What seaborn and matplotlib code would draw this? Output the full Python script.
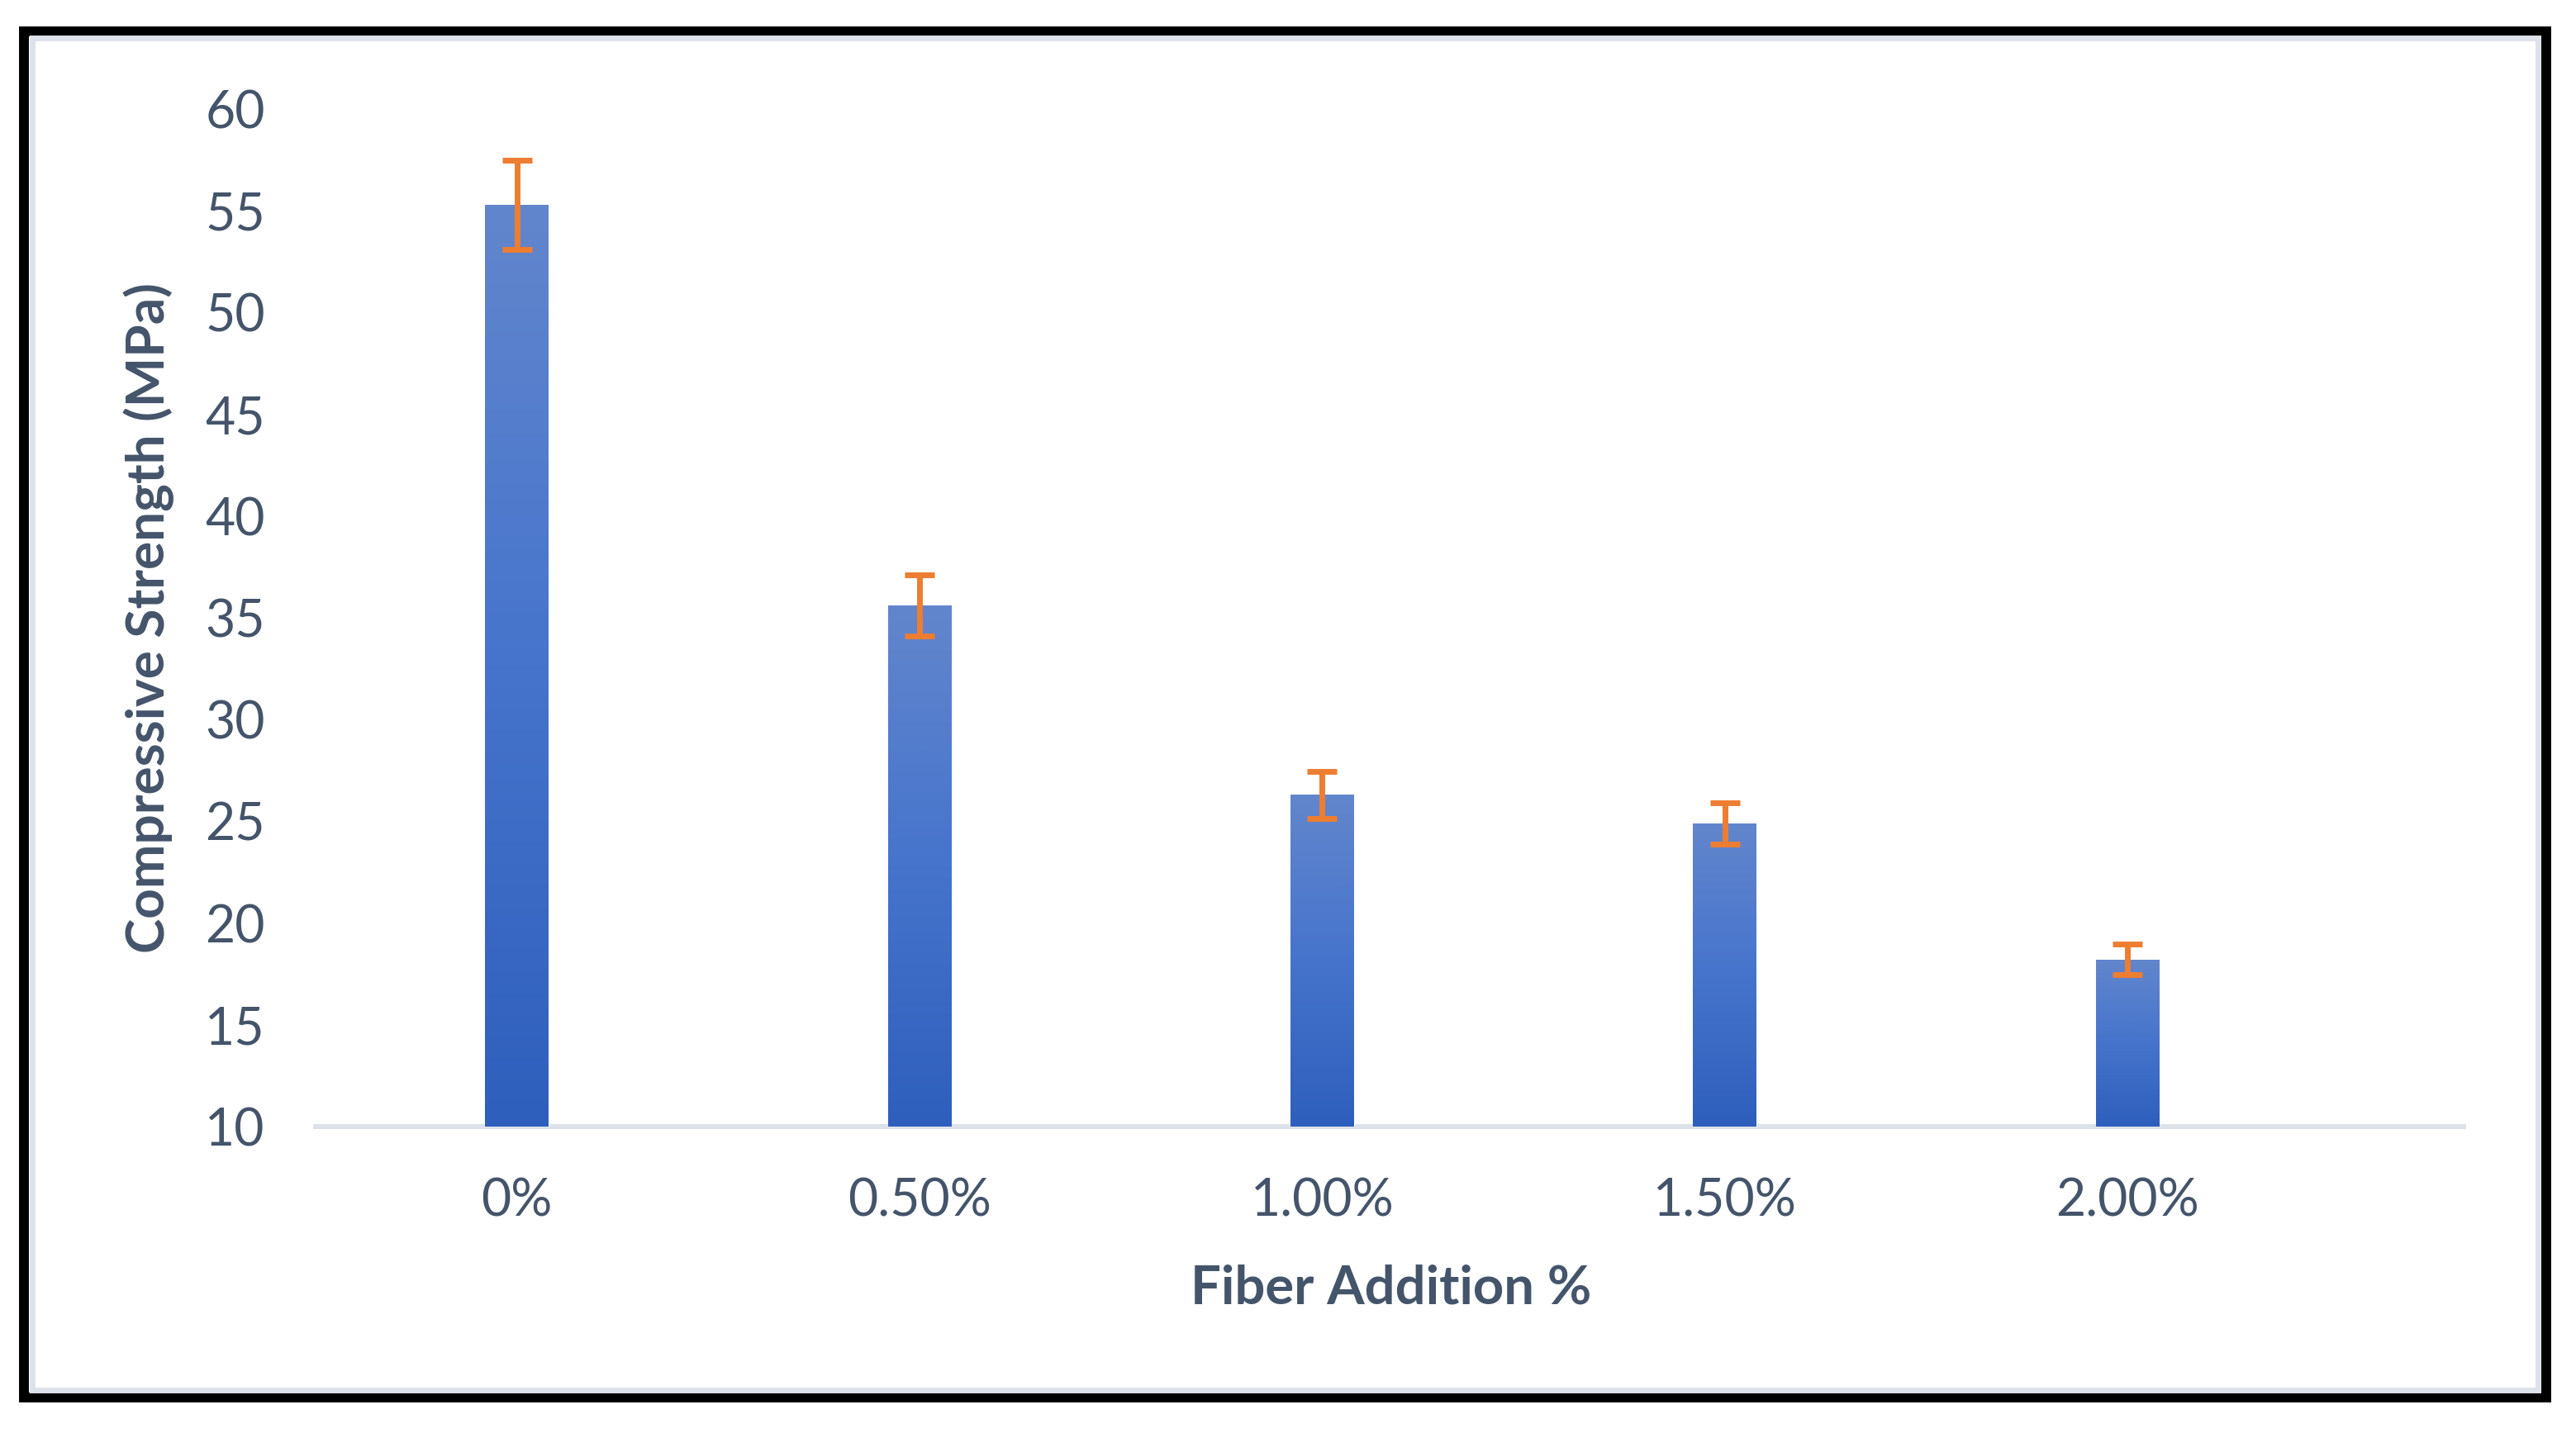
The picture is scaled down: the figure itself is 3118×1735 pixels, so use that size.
import numpy as np
import pandas as pd
import matplotlib
matplotlib.use('Agg')
import matplotlib.pyplot as plt
from matplotlib.colors import LinearSegmentedColormap
from matplotlib.patches import Rectangle
import seaborn as sns

# values
fiber = ['0%', '0.50%', '1.00%', '1.50%', '2.00%']
strength = [55.3, 35.6, 26.3, 24.9, 18.2]
strength_err = [2.2, 1.5, 1.15, 1.0, 0.75]
y_ticks = [10, 15, 20, 25, 30, 35, 40, 45, 50, 55, 60]

df = pd.DataFrame({'fiber': fiber, 'strength': strength})

sns.set_style('white')
plt.rcParams['font.family'] = ['Lato', 'DejaVu Sans']

text_col = '#44546a'
W, H = 3118, 1735
fig = plt.figure(figsize=(W / 100, H / 100), dpi=100)
ax = fig.add_axes([382 / W, 1 - 1364 / H, (2982 - 382) / W, (1364 - 132) / H])

sns.barplot(data=df, x='fiber', y='strength', color='#4472c4', saturation=1,
            width=0.157, errorbar=None, ax=ax, zorder=2)

ymin, ymax = y_ticks[0], y_ticks[-1]

# vertical gradient inside every bar
cmap = LinearSegmentedColormap.from_list('bar', ['#2e5fbc', '#4674cc', '#6286cc'])
grad = np.linspace(0, 1, 256).reshape(-1, 1)
for p in ax.patches:
    x0 = p.get_x()
    top = p.get_y() + p.get_height()
    im = ax.imshow(grad, extent=[x0, x0 + p.get_width(), ymin, top], origin='lower',
                   aspect='auto', cmap=cmap, zorder=2.5)
    im.set_clip_path(p)

ax.errorbar(x=np.arange(len(fiber)), y=strength, yerr=strength_err, fmt='none',
            ecolor='#ed7d31', elinewidth=5, capsize=13, capthick=5, zorder=4)

ax.set_xlim(-0.5, 4.835)
ax.set_ylim(ymin, ymax)
ax.set_yticks(y_ticks)
ax.set_yticklabels([str(t) for t in y_ticks])

for s in ['top', 'right', 'left']:
    ax.spines[s].set_visible(False)
ax.spines['bottom'].set_color('#dde2ea')
ax.spines['bottom'].set_linewidth(4.3)
ax.spines['bottom'].set_zorder(1)

ax.tick_params(axis='both', length=0, labelsize=45, colors=text_col)
ax.tick_params(axis='y', pad=44)
ax.tick_params(axis='x', pad=44)

ax.set_ylabel('Compressive Strength (MPa)', fontsize=46, fontweight='bold', color=text_col)
ax.yaxis.label.set_va('center')
ax.yaxis.set_label_coords(-0.0775, 0.5)
ax.set_xlabel('Fiber Addition %', fontsize=47, fontweight='bold', color=text_col)
ax.xaxis.label.set_va('center')
ax.xaxis.set_label_coords(0.5008, -0.159)

# frame around the picture
fig.patches.append(Rectangle((29 / W, 1 - 1692 / H), (3082 - 29) / W, (1692 - 38) / H,
                             transform=fig.transFigure, fill=False, edgecolor='black',
                             linewidth=8.6, zorder=10))
fig.patches.append(Rectangle((38.5 / W, 1 - 1682.5 / H), (3071.5 - 38.5) / W, (1682.5 - 46.5) / H,
                             transform=fig.transFigure, fill=False, edgecolor='#dde2ea',
                             linewidth=5, zorder=10))

fig.savefig('out.png', dpi=100, facecolor='white')
